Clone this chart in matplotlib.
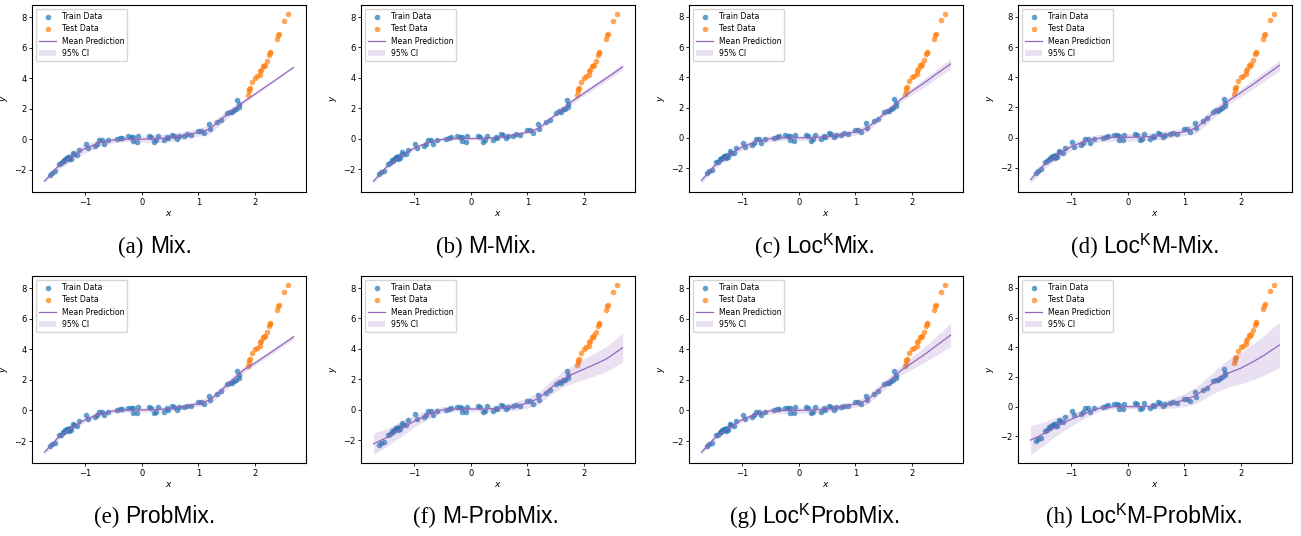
import matplotlib
matplotlib.use("Agg")
import matplotlib.pyplot as plt
import numpy as np

# ---------------- data ----------------
train_x = [-1.62, -1.58, -1.53, -1.46, -1.43, -1.40, -1.38, -1.35, -1.33, -1.32, -1.30, -1.28,
           -1.27, -1.25, -1.22, -1.19, -1.15, -1.11, -0.99, -0.95, -0.82, -0.79, -0.76, -0.71,
           -0.66, -0.59, -0.43, -0.39, -0.35, -0.24, -0.19, -0.16, -0.15, -0.09, -0.06, 0.13,
           0.16, 0.21, 0.25, 0.28, 0.40, 0.44, 0.46, 0.53, 0.56, 0.62, 0.66, 0.74, 0.79, 0.86,
           1.00, 1.04, 1.09, 1.19, 1.21, 1.32, 1.39, 1.51, 1.56, 1.59, 1.63, 1.66, 1.69, 1.71, 1.72]
train_y = [-2.33, -2.20, -2.11, -1.63, -1.58, -1.40, -1.43, -1.30, -1.26, -1.21, -1.19, -1.32,
           -1.15, -1.27, -0.88, -0.97, -1.01, -0.70, -0.31, -0.59, -0.46, -0.33, -0.07, -0.07,
           -0.33, -0.07, 0.00, 0.07, 0.11, 0.18, 0.15, -0.15, 0.13, -0.18, 0.20, 0.22,
           0.15, -0.18, -0.07, 0.22, -0.07, 0.13, 0.05, 0.29, 0.24, 0.04, 0.20, 0.22, 0.31, 0.26,
           0.55, 0.55, 0.40, 0.97, 0.66, 1.10, 1.27, 1.71, 1.80, 1.78, 1.93, 1.98, 2.55, 2.29, 2.11]

test_x = [1.87, 1.89, 1.90, 1.91, 1.95, 2.00, 2.04, 2.08, 2.09, 2.11, 2.14, 2.15, 2.18, 2.21,
          2.24, 2.26, 2.27, 2.39, 2.41, 2.43, 2.52, 2.58]
test_y = [2.91, 3.13, 3.28, 3.35, 3.74, 4.00, 4.11, 4.22, 4.44, 4.55, 4.81, 4.77, 4.88, 5.14,
          5.53, 5.62, 5.69, 6.56, 6.80, 6.89, 7.77, 8.23]

grid_x = [-1.72, -1.5, -1.25, -1.0, -0.75, -0.5, -0.25, 0.0, 0.25, 0.5, 0.75, 1.0, 1.2, 1.4,
          1.6, 1.8, 2.0, 2.2, 2.4, 2.68]

mean_a = [-2.75, -1.85, -1.15, -0.60, -0.24, -0.05, 0.00, 0.00, 0.03, 0.10, 0.25, 0.45, 0.65, 1.30, 1.90, 2.45, 2.96, 3.47, 3.98, 4.70]
mean_b = [-2.78, -1.88, -1.15, -0.60, -0.22, -0.03, 0.02, 0.02, 0.04, 0.10, 0.25, 0.45, 0.68, 1.30, 1.90, 2.50, 3.00, 3.50, 4.00, 4.72]
mean_c = [-2.82, -1.88, -1.15, -0.60, -0.24, -0.05, 0.00, 0.00, 0.02, 0.08, 0.20, 0.40, 0.62, 1.25, 1.90, 2.55, 3.10, 3.60, 4.15, 4.89]
mean_d = [-2.79, -1.88, -1.15, -0.60, -0.22, -0.03, 0.02, 0.02, 0.04, 0.10, 0.22, 0.40, 0.62, 1.25, 1.90, 2.50, 3.00, 3.50, 4.05, 4.79]
mean_e = [-2.73, -1.85, -1.15, -0.60, -0.22, -0.03, 0.02, 0.03, 0.05, 0.12, 0.25, 0.45, 0.68, 1.30, 2.00, 2.65, 3.10, 3.60, 4.10, 4.81]
mean_f = [-2.24, -1.85, -1.30, -0.75, -0.30, 0.00, 0.05, 0.05, 0.05, 0.10, 0.20, 0.45, 0.75, 1.40, 1.95, 2.35, 2.67, 3.00, 3.35, 4.07]
mean_g = [-2.73, -1.85, -1.15, -0.60, -0.22, -0.03, 0.00, 0.00, 0.03, 0.10, 0.22, 0.42, 0.65, 1.30, 1.95, 2.60, 3.10, 3.60, 4.15, 4.92]
mean_h = [-2.25, -1.85, -1.30, -0.85, -0.45, -0.10, 0.00, 0.00, 0.00, 0.05, 0.20, 0.45, 0.75, 1.30, 1.85, 2.30, 2.60, 3.00, 3.45, 4.16]

half_a = [0.15, 0.20, 0.30, 0.30, 0.25, 0.20, 0.15, 0.20, 0.25, 0.25, 0.25, 0.25, 0.30, 0.30, 0.25, 0.12, 0.08, 0.07, 0.06, 0.05]
half_b = [0.15, 0.15, 0.12, 0.12, 0.10, 0.10, 0.10, 0.10, 0.10, 0.10, 0.10, 0.12, 0.15, 0.15, 0.15, 0.15, 0.16, 0.17, 0.18, 0.20]
half_c = [0.20, 0.20, 0.20, 0.20, 0.20, 0.20, 0.15, 0.15, 0.20, 0.20, 0.20, 0.20, 0.25, 0.20, 0.20, 0.20, 0.25, 0.28, 0.30, 0.35]
half_d = [0.25, 0.25, 0.25, 0.25, 0.25, 0.25, 0.25, 0.25, 0.25, 0.25, 0.25, 0.25, 0.35, 0.35, 0.30, 0.25, 0.28, 0.30, 0.32, 0.35]
half_e = [0.15, 0.15, 0.15, 0.15, 0.15, 0.15, 0.15, 0.15, 0.15, 0.15, 0.15, 0.18, 0.25, 0.25, 0.25, 0.20, 0.15, 0.15, 0.15, 0.15]
half_f = [0.70, 0.60, 0.50, 0.40, 0.30, 0.20, 0.15, 0.15, 0.15, 0.20, 0.28, 0.35, 0.40, 0.45, 0.50, 0.60, 0.68, 0.75, 0.82, 0.94]
half_g = [0.15, 0.15, 0.15, 0.15, 0.15, 0.20, 0.20, 0.20, 0.20, 0.20, 0.20, 0.20, 0.30, 0.30, 0.30, 0.30, 0.40, 0.50, 0.60, 0.75]
half_h = [0.97, 0.80, 0.60, 0.45, 0.30, 0.20, 0.15, 0.15, 0.15, 0.20, 0.30, 0.45, 0.55, 0.65, 0.80, 0.95, 1.05, 1.20, 1.35, 1.54]

# caption pieces: (label, prefix before superscript, superscript, rest)
captions = [
    ("(a)", "", "", "Mix."),
    ("(b)", "", "", "M-Mix."),
    ("(c)", "Loc", "K", "Mix."),
    ("(d)", "Loc", "K", "M-Mix."),
    ("(e)", "", "", "ProbMix."),
    ("(f)", "", "", "M-ProbMix."),
    ("(g)", "Loc", "K", "ProbMix."),
    ("(h)", "Loc", "K", "M-ProbMix."),
]
means = [mean_a, mean_b, mean_c, mean_d, mean_e, mean_f, mean_g, mean_h]
halves = [half_a, half_b, half_c, half_d, half_e, half_f, half_g, half_h]

# ---------------- layout ----------------
W, H = 1301, 536
fig = plt.figure(figsize=(W / 100, H / 100), dpi=100)
lefts = [32, 361, 689, 1018]
tops = [5, 276]
aw, ah = 274, 187
cap_centers = [155, 486, 815, 1145]
cap_base = [253, 523]

for i in range(8):
    r, c = divmod(i, 4)
    ax = fig.add_axes([lefts[c] / W, 1 - (tops[r] + ah) / H, aw / W, ah / H])
    gx = np.array(grid_x)
    m = np.array(means[i])
    h = np.array(halves[i])
    ax.scatter(train_x, train_y, s=16, color="tab:blue", alpha=0.7, linewidths=0, label="Train Data")
    ax.scatter(test_x, test_y, s=16, color="tab:orange", alpha=0.7, linewidths=0, label="Test Data")
    ax.plot(gx, m, color="tab:purple", lw=0.9, label="Mean Prediction")
    ax.fill_between(gx, m - h, m + h, color="tab:purple", alpha=0.2, linewidth=0, label="95% CI")
    ax.set_xticks([-1, 0, 1, 2])
    ax.set_yticks([-2, 0, 2, 4, 6, 8])
    ax.tick_params(labelsize=6, length=2.5, width=0.6, pad=1.5)
    ax.set_xlabel("$x$", fontsize=6.5, labelpad=1.5)
    ax.set_ylabel("$y$", fontsize=6.5, labelpad=3)
    for sp in ax.spines.values():
        sp.set_linewidth(0.8)
    ax.legend(loc="upper left", fontsize=5.6, borderpad=0.4, handlelength=2.2,
              labelspacing=0.42, handletextpad=0.7, framealpha=0.8)

# captions with mixed fonts
fig.canvas.draw()
renderer = fig.canvas.get_renderer()
for i, (lab, pre, sup, rest) in enumerate(captions):
    r, c = divmod(i, 4)
    y = 1 - cap_base[r] / H
    pieces = [(lab + " ", "Liberation Serif", 16.5, 0)]
    if pre:
        pieces.append((pre, "Liberation Sans", 16.5, 0))
        pieces.append((sup, "Liberation Sans", 11.5, 8))
    pieces.append((rest, "Liberation Sans", 16.5, 0))
    texts = []
    widths = []
    for s, fam, fs, dy in pieces:
        t = fig.text(0, y + dy / H, s, family=fam, fontsize=fs, va="baseline", ha="left")
        bb = t.get_window_extent(renderer=renderer)
        texts.append(t)
        widths.append(bb.width)
    total = sum(widths)
    x0 = cap_centers[c] - total / 2
    for t, w in zip(texts, widths):
        t.set_x(x0 / W)
        x0 += w

fig.savefig("out.png", dpi=100)
